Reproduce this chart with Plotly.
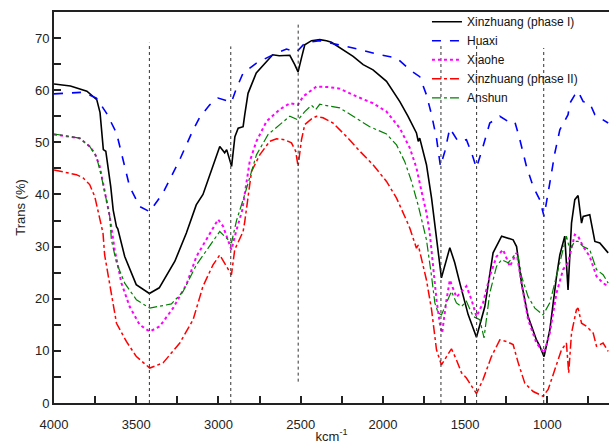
import plotly.graph_objects as go

# ---------------- data ----------------
x_p1 = [4000, 3900, 3800, 3740, 3720, 3710, 3700, 3685, 3655, 3640, 3620, 3612, 3570, 3500, 3420,
        3360, 3265, 3195, 3135, 3094, 2992, 2962, 2950, 2920, 2900, 2880, 2850, 2840, 2820, 2770,
        2670, 2630, 2566, 2536, 2516, 2495, 2475, 2434, 2384, 2343, 2313, 2181, 2120, 2060, 1978,
        1897, 1847, 1796, 1785, 1776, 1735, 1704, 1684, 1674, 1644, 1593, 1563, 1532, 1482, 1431,
        1380, 1330, 1278, 1208, 1187, 1157, 1117, 1066, 1046, 1020, 985, 944, 924, 894, 874, 853,
        833, 813, 792, 782, 742, 711, 681, 630]
y_p1 = [61.2, 60.8, 59.8, 58.2, 55.7, 52.4, 48.6, 48.3, 41.5, 37.0, 33.8, 33.4, 28.1, 22.7, 21.0,
        22.1, 27.2, 32.6, 38.0, 40.0, 49.2, 48.0, 48.6, 45.4, 51.1, 52.7, 53.0, 55.3, 59.4, 63.3,
        66.8, 66.6, 66.7, 64.9, 63.5, 66.2, 68.7, 69.5, 69.7, 69.5, 69.2, 66.5, 64.9, 63.9, 61.7,
        57.8, 55.0, 51.8, 50.2, 50.8, 45.7, 39.3, 34.2, 30.7, 24.0, 29.8, 26.9, 23.0, 17.0, 12.6,
        18.5, 28.8, 32.0, 31.3, 30.0, 23.0, 16.6, 12.1, 10.9, 8.9, 14.0, 24.3, 28.4, 32.0, 21.7, 34.5,
        39.0, 39.8, 34.5, 35.8, 36.1, 31.0, 30.7, 28.8]

x_hx = [4000, 3824, 3742, 3681, 3620, 3580, 3540, 3479, 3418, 3337, 3235, 3154, 3114, 3053, 3002,
        2951, 2921, 2890, 2850, 2769, 2668, 2586, 2525, 2485, 2445, 2384, 2262, 2140, 2019, 1917,
        1836, 1776, 1735, 1704, 1674, 1650, 1623, 1593, 1543, 1492, 1461, 1431, 1391, 1350, 1289,
        1238, 1198, 1167, 1127, 1086, 1046, 1020, 985, 954, 924, 894, 874, 863, 833, 813, 782, 742,
        711, 661, 630]
y_hx = [59.3, 59.6, 58.5, 55.6, 51.8, 46.7, 41.5, 37.7, 36.7, 40.3, 46.7, 52.4, 54.8, 57.2, 58.5,
        58.0, 57.7, 60.4, 63.3, 65.2, 66.8, 67.9, 67.3, 68.7, 69.2, 69.5, 68.7, 67.8, 66.8, 66.2,
        63.9, 62.6, 59.1, 55.3, 50.8, 45.4, 48.3, 52.7, 50.2, 50.5, 48.0, 45.1, 49.2, 53.7, 55.0,
        54.0, 54.0, 50.5, 45.4, 41.5, 39.0, 35.8, 42.2, 48.0, 52.4, 54.0, 55.3, 57.5, 59.1, 59.8, 57.8, 57.5,
        55.3, 54.3, 53.7]

x_xh = [4000, 3844, 3783, 3752, 3722, 3692, 3661, 3631, 3590, 3540, 3479, 3418, 3357, 3276, 3195,
        3134, 3002, 2972, 2921, 2890, 2855, 2810, 2769, 2708, 2627, 2566, 2516, 2485, 2404, 2330,
        2262, 2160, 2060, 1978, 1897, 1836, 1796, 1765, 1735, 1715, 1695, 1674, 1654, 1640, 1613,
        1593, 1553, 1512, 1492, 1461, 1431, 1391, 1350, 1309, 1269, 1228, 1187, 1157, 1117, 1066,
        1020, 985, 944, 904, 874, 833, 813, 782, 742, 701, 661, 630]
y_xh = [51.5, 50.8, 49.2, 47.9, 45.4, 40.3, 35.8, 29.4, 23.0, 18.5, 15.0, 13.7, 14.7, 18.2, 22.7,
        28.1, 35.2, 33.9, 29.4, 33.2, 37.0, 46.3, 50.2, 54.0, 56.3, 57.5, 57.2, 58.8, 60.7, 60.6,
        60.3, 58.8, 57.5, 55.9, 52.7, 48.9, 45.1, 40.6, 36.5, 32.6, 26.2, 19.8, 15.3, 13.4, 19.8,
        23.6, 20.3, 21.7, 22.4, 19.8, 16.6, 19.2, 24.3, 28.1, 29.4, 26.2, 28.8, 23.0, 16.0, 11.5,
        9.6, 13.4, 21.1, 25.6, 26.9, 32.3, 32.0, 30.0, 28.1, 24.3, 23.0, 22.4]

x_p2 = [4000, 3904, 3864, 3824, 3783, 3752, 3732, 3702, 3692, 3661, 3620, 3560, 3499, 3418, 3337,
        3235, 3154, 3094, 3033, 2992, 2951, 2921, 2901, 2850, 2840, 2799, 2749, 2688, 2647, 2597,
        2556, 2530, 2516, 2495, 2475, 2434, 2404, 2364, 2303, 2221, 2140, 2060, 1978, 1917, 1856,
        1836, 1796, 1785, 1735, 1704, 1674, 1654, 1644, 1613, 1583, 1553, 1522, 1492, 1451, 1431,
        1391, 1340, 1289, 1248, 1208, 1177, 1137, 1086, 1046, 1026, 995, 954, 914, 884, 870, 853,
        823, 813, 792, 762, 721, 701, 661, 630]
y_p2 = [44.7, 44.0, 43.8, 43.2, 41.9, 39.6, 37.0, 32.6, 28.4, 22.4, 15.3, 11.8, 8.9, 6.7, 7.7,
        11.5, 16.0, 22.4, 26.5, 28.4, 26.2, 24.6, 29.4, 32.9, 34.8, 44.4, 47.6, 50.2, 50.7, 50.5,
        49.9, 48.3, 45.4, 50.5, 53.4, 54.5, 55.0, 54.7, 53.7, 51.1, 48.3, 45.7, 42.5, 39.3, 35.0,
        33.5, 29.7, 30.3, 23.6, 17.9, 10.2, 8.0, 7.3, 8.9, 10.4, 8.3, 5.8, 4.8, 2.6, 1.8,
        4.5, 8.9, 12.1, 11.8, 11.2, 7.7, 3.8, 2.2, 1.6, 1.3, 2.6, 6.4, 10.2, 11.5, 5.8, 13.4,
        17.9, 18.2, 15.3, 14.7, 13.4, 10.9, 11.5, 9.9]

x_as = [4000, 3844, 3783, 3742, 3712, 3681, 3661, 3651, 3620, 3570, 3499, 3418, 3286, 3215, 3134,
        2992, 2962, 2921, 2890, 2840, 2769, 2698, 2627, 2566, 2516, 2475, 2434, 2408, 2384, 2262,
        2181, 2080, 1978, 1917, 1867, 1826, 1786, 1755, 1735, 1704, 1684, 1664, 1644, 1613, 1583,
        1553, 1522, 1492, 1451, 1411, 1385, 1350, 1309, 1278, 1238, 1198, 1177, 1157, 1117, 1076,
        1026, 985, 944, 914, 884, 863, 833, 813, 782, 742, 701, 661, 630]
y_as = [51.6, 50.8, 49.2, 47.3, 43.5, 39.0, 35.8, 31.3, 26.9, 23.0, 19.8, 18.2, 19.0, 21.4, 26.5,
        32.9, 32.0, 30.7, 35.0, 40.0, 47.6, 51.5, 53.4, 55.0, 54.3, 55.9, 57.1, 56.3, 57.3, 56.6,
        55.0, 53.0, 51.6, 49.5, 46.3, 42.5, 38.0, 34.2, 31.3, 24.3, 19.2, 17.3, 16.9, 19.2, 21.4,
        19.2, 18.5, 19.5, 16.6, 16.0, 12.5, 21.1, 26.2, 27.5, 26.9, 28.4, 28.1, 24.3, 20.4, 18.2,
        16.9, 19.2, 24.3, 28.1, 32.0, 29.4, 31.0, 31.0, 30.0, 29.4, 25.6, 24.6, 23.0]

names = ["Xinzhuang (phase I)", "Huaxi", "Xiaohe", "Xinzhuang (phase II)", "Anshun"]

# marker lines (wavenumber, top, bottom)
mark_x = [3420, 2925, 2515, 1647, 1430, 1022]
mark_top = [69.1, 68.4, 73.1, 68.9, 68.9, 68.1]
mark_bot = [0, 0, 4.1, 0, 0, 0]

x_ticks = [4000, 3500, 3000, 2500, 2000, 1500, 1000]
y_ticks = [0, 10, 20, 30, 40, 50, 60, 70]

# ---------------- figure ----------------
fig = go.Figure()
series = [
    (x_p1, y_p1, names[0], "#000000", "solid", 1.6),
    (x_hx, y_hx, names[1], "#0000FF", "dash", 1.6),
    (x_xh, y_xh, names[2], "#FF00FF", "dot", 2.0),
    (x_p2, y_p2, names[3], "#FF0000", "dashdot", 1.5),
    (x_as, y_as, names[4], "#008000", "dashdot", 1.2),
]
for xs, ys, nm, col, dash, w in series:
    fig.add_trace(go.Scatter(x=xs, y=ys, name=nm, mode="lines",
                             line=dict(color=col, dash=dash, width=w)))

for mx, top, bot in zip(mark_x, mark_top, mark_bot):
    fig.add_shape(type="line", xref="x", yref="y", x0=mx, x1=mx, y0=bot, y1=top,
                  line=dict(color="#333333", width=1, dash="dot"), layer="above")

font = "Arial, Liberation Sans, sans-serif"
fig.update_layout(
    width=609, height=444,
    margin=dict(l=54, r=0, t=12, b=41),
    paper_bgcolor="white", plot_bgcolor="white",
    font=dict(family=font, size=13, color="#222222"),
    showlegend=True,
    legend=dict(x=0.672, y=1.012, xanchor="left", yanchor="top",
                bgcolor="rgba(0,0,0,0)", font=dict(size=12, color="#111111"),
                tracegroupgap=0, itemwidth=30),
    xaxis=dict(range=[4000, 625], tickvals=x_ticks, ticks="inside", ticklen=7, tickwidth=1.5,
               tickcolor="#222", showline=True, linecolor="#222", linewidth=2, mirror=True,
               showgrid=False, zeroline=False, ticklabelstandoff=8,
               minor=dict(dtick=250, ticks="inside", ticklen=7, tickwidth=1.5, tickcolor="#222", showgrid=False),
               title=dict(text="kcm<sup>-1</sup>", standoff=1, font=dict(size=13))),
    yaxis=dict(range=[0, 75], tickvals=y_ticks, ticks="inside", ticklen=7, tickwidth=1.5,
               tickcolor="#222", showline=True, linecolor="#222", linewidth=2,
               showgrid=False, zeroline=False,
               minor=dict(dtick=5, ticks="inside", ticklen=7, tickwidth=1.5, tickcolor="#222", showgrid=False),
               title=dict(text="Trans (%)", standoff=6, font=dict(size=13))),
)

fig.write_html("out.html", config={"displayModeBar": False},
               post_script="document.body.style.margin='0';document.body.style.overflow='hidden';")
